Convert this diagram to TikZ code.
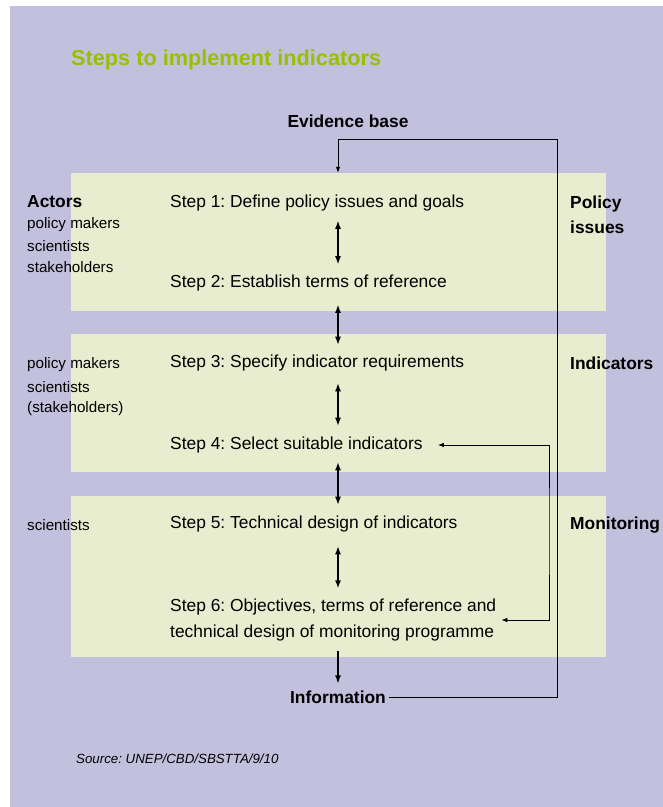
\documentclass[tikz,border=0pt]{standalone}
\usepackage{fontspec}
\setmainfont{Liberation Sans}
\usetikzlibrary{arrows.meta,calc}
\frenchspacing

\definecolor{lavender}{RGB}{195,192,221}
\definecolor{panelgreen}{RGB}{231,237,206}
\definecolor{titlegreen}{RGB}{153,192,0}

\tikzset{
  panel/.style={fill=panelgreen, inner sep=0, minimum width=535pt},
  steptxt/.style={anchor=west, inner sep=0, font=\fontsize{17.4}{26.7}\selectfont, align=left},
  headtxt/.style={inner sep=0, font=\fontsize{17.4}{25}\selectfont\bfseries, align=left},
  actortxt/.style={anchor=west, inner sep=0, font=\fontsize{15.2}{18}\selectfont},
  dbl/.style={line width=1.3pt, {Latex[length=8pt,width=6pt]}-{Latex[length=8pt,width=6pt]}},
  fwd/.style={line width=1.3pt, -{Latex[length=8pt,width=6pt]}},
  fb/.style={line width=0.9pt, -{Latex[length=6pt,width=4.5pt]}}
}

\begin{document}
\begin{tikzpicture}[x=1pt,y=-1pt]

\useasboundingbox (0,0) rectangle (663,807);
\fill [lavender] (10,6) rectangle (663,807);

% panels
\node [panel, minimum height=138pt] (p1) at (338.5,242) {};
\node [panel, minimum height=138pt] (p2) at (338.5,403) {};
\node [panel, minimum height=161pt] (p3) at (338.5,576.5) {};

\node [anchor=west, inner sep=0, text=titlegreen, font=\fontsize{21.7}{26}\selectfont\bfseries] (title) at (71,60) {Steps to implement indicators};

\node [headtxt] (evid) at (348,121.5) {Evidence base};
\node [headtxt] (info) at (338,697) {Information};

% steps
\node [steptxt] (s1) at (170,202.5) {Step 1: Define policy issues and goals};
\node [steptxt] (s2) at (170,282.5) {Step 2: Establish terms of reference};
\node [steptxt] (s3) at (170,363) {Step 3: Specify indicator requirements};
\node [steptxt] (s4) at (170,445) {Step 4: Select suitable indicators};
\node [steptxt] (s5) at (170,524) {Step 5: Technical design of indicators};
\node [steptxt] (s6) at (170,620) {Step 6: Objectives, terms of reference and\\technical design of monitoring programme};

% actors
\node [headtxt, anchor=west] (act) at (27,201.5) {Actors};
\node [actortxt] (a11) at (27,225) {policy makers};
\node [actortxt] (a12) at (27,246.5) {scientists};
\node [actortxt] (a13) at (27,267.5) {stakeholders};
\node [actortxt] (a21) at (27,365) {policy makers};
\node [actortxt] (a22) at (27,387) {scientists};
\node [actortxt] (a23) at (27,409) {(stakeholders)};
\node [actortxt] (a31) at (27,525.5) {scientists};

% right hand labels
\node [headtxt, anchor=west] (pol) at (570,215) {Policy\\issues};
\node [headtxt, anchor=west] (ind) at (570,363) {Indicators};
\node [headtxt, anchor=west] (mon) at (570,525) {Monitoring};

\node [anchor=west, inner sep=0, font=\fontsize{13.3}{16}\selectfont\itshape] (src) at (76,759) {Source: UNEP/CBD/SBSTTA/9/10};

% arrows between steps
\draw [dbl, shorten <=10pt, shorten >=10pt] (s1.south -| info) -- (s2.north -| info);
\draw [dbl, shorten <=14pt, shorten >=10pt] (s2.south -| info) -- (s3.north -| info);
\draw [dbl, shorten <=12pt, shorten >=11pt] (s3.south -| info) -- (s4.north -| info);
\draw [dbl, shorten <=9pt, shorten >=11pt] (s4.south -| info) -- (s5.north -| info);
\draw [dbl, shorten <=14pt, shorten >=10pt] (s5.south -| info) -- (s6.north -| info);
\draw [fwd, shorten <=9pt, shorten >=7pt] (s6.south -| info) -- (info.north);

% feedback loops
\coordinate (loop) at (557,139);
\coordinate (rt) at (549,530);
\draw [fb] ([xshift=3pt]info.east) -| (loop) -| (p1.north -| info);
\draw [fb, {Latex[length=6pt,width=4.5pt]}-{Latex[length=6pt,width=4.5pt]}] ([xshift=15pt]s4.east) -| (rt) |- ([xshift=5pt]s6.east);

\end{tikzpicture}
\end{document}
